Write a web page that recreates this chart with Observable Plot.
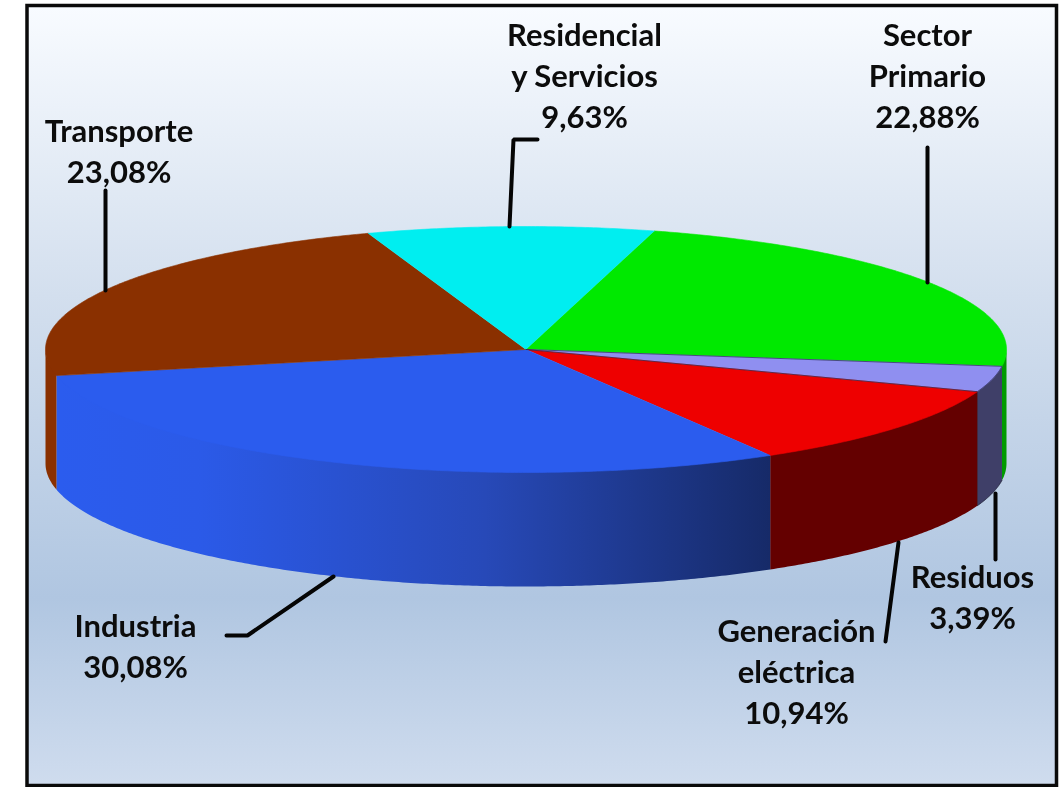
<!DOCTYPE html>
<html lang="es">
<head>
<meta charset="utf-8">
<title>Emisiones por sector</title>
<style>html,body{margin:0;padding:0;background:#fff}svg{display:block;filter:blur(0.45px)}</style>
<script src="https://cdn.jsdelivr.net/npm/d3@7"></script>
<script src="https://cdn.jsdelivr.net/npm/@observablehq/plot@0.6"></script>
</head>
<body>
<div id="chart"></div>
<script>
// Data, clockwise from the start of "Sector Primario"
const sectors = ["Sector Primario", "Residuos", "Generación eléctrica", "Industria", "Transporte", "Residencial y Servicios"];
const shares = [22.88, 3.39, 10.94, 30.08, 23.08, 9.63];
const labelTexts = ["Sector\nPrimario\n22,88%", "Residuos\n3,39%", "Generación\neléctrica\n10,94%", "Industria\n30,08%", "Transporte\n23,08%", "Residencial\ny Servicios\n9,63%"];
const topColors = ["#00e900", "#8f8ff0", "#ee0000", "#2b5cee", "#8a3000", "#00eef0"];
const wallColors = ["#009a00", "#3f3f68", "#640000", "url(#wallBlue)", "#8a3000", "#00a0a0"];

// Layout of the tilted pie
const W = 1061, H = 787;
const cx = 525.5, cy = 349, rx = 480.5, ry = 123, depth = 114, startDeg = 15.5;

const rad = d => d * Math.PI / 180;
const ex = t => cx + rx * Math.sin(rad(t));
const ey = t => cy - ry * Math.cos(rad(t));
function arc(a, b) {
  const n = Math.max(2, Math.ceil(Math.abs(b - a) * 2));
  return d3.range(n + 1).map(i => a + (b - a) * i / n);
}

// Slice angles derive from the shares
let acc = startDeg;
const slices = sectors.map((name, i) => {
  const a = acc, b = acc + shares[i] * 3.6;
  acc = b;
  return {name, a, b, top: topColors[i], wall: wallColors[i]};
});

const topPath = s => [{x: cx, y: cy}, ...arc(s.a, s.b).map(t => ({x: ex(t), y: ey(t)}))];
function wallPath(s) {
  // The part of the rim facing the viewer lies between 90° and 270°.
  // Its upper edge tucks slightly under the top face, which avoids a seam.
  const a = Math.max(s.a, 90), b = Math.min(s.b, 270);
  if (b <= a) return null;
  const ts = arc(a, b);
  return [...ts.map(t => ({x: ex(t), y: ey(t) - 1.5})), ...ts.slice().reverse().map(t => ({x: ex(t), y: ey(t) + depth}))];
}

// Label anchors and leader lines
const labelPos = [[927, 16], [972, 558], [796, 612], [135, 607], [118.5, 112], [584, 16]];
const leaders = [
  [[927, 147], [927, 282]],
  [[995, 493], [995, 559]],
  [[898, 542], [885, 641]],
  [[333, 576], [247, 635], [226, 635]],
  [[105, 190], [105, 290]],
  [[537, 139], [513, 139], [509, 226]]
];

const defs = () => {
  const svg = d3.create("svg:defs");
  const bg = svg.append("linearGradient").attr("id", "panelBg")
    .attr("gradientUnits", "userSpaceOnUse").attr("x1", 0).attr("x2", 0).attr("y1", 7).attr("y2", 785);
  [[0, "#f8fbff"], [0.37, "#d3dfee"], [0.76, "#b0c6e1"], [1, "#cfdcee"]]
    .forEach(([o, c]) => bg.append("stop").attr("offset", o).attr("stop-color", c));
  const blue = svg.append("linearGradient").attr("id", "wallBlue")
    .attr("gradientUnits", "userSpaceOnUse").attr("x1", 56).attr("x2", 770).attr("y1", 0).attr("y2", 0);
  [[0, "#2b5cee"], [0.2, "#2b5ae8"], [0.6, "#2749b8"], [1, "#162a68"]]
    .forEach(([o, c]) => blue.append("stop").attr("offset", o).attr("stop-color", c));
  return svg.node();
};

const marks = [
  defs,
  Plot.rect([{}], {x1: () => 27, x2: () => 1056.5, y1: () => 5.5, y2: () => 785.5, fill: "url(#panelBg)", stroke: "#0a0a0a", strokeWidth: 3.5})
];
// Walls first, then the top faces
slices.forEach(s => {
  const w = wallPath(s);
  if (w) marks.push(Plot.line(w, {x: "x", y: "y", fill: s.wall, stroke: s.name === "Residuos" ? "#222238" : "none", strokeWidth: s.name === "Residuos" ? 0.8 : 0}));
});
slices.forEach(s => {
  marks.push(Plot.line(topPath(s), {x: "x", y: "y", fill: s.top, stroke: s.top, strokeWidth: 0.6}));
});
// Thin dark outline around the small slice
const res = slices[1];
marks.push(Plot.line([...topPath(res), {x: cx, y: cy}], {x: "x", y: "y", stroke: "#2a2a50", strokeWidth: 0.7}));
leaders.forEach(l => {
  marks.push(Plot.line(l.map(([x, y]) => ({x, y})), {x: "x", y: "y", stroke: "#050505", strokeWidth: 4, strokeLinejoin: "miter"}));
});
marks.push(Plot.text(labelTexts.map((text, i) => ({text, x: labelPos[i][0], y: labelPos[i][1]})), {
  x: "x", y: "y", text: "text", lineAnchor: "top", textAnchor: "middle",
  fontFamily: "Lato", fontWeight: 700, fontSize: 31, lineHeight: 1.33, fill: "#0c0c0c"
}));

const chart = Plot.plot({
  width: W, height: H, margin: 0,
  x: {domain: [0, W], range: [0, W], axis: null},
  y: {domain: [0, H], range: [0, H], axis: null},
  style: {background: "#fff"},
  marks
});
document.getElementById("chart").appendChild(chart);
</script>
</body>
</html>
